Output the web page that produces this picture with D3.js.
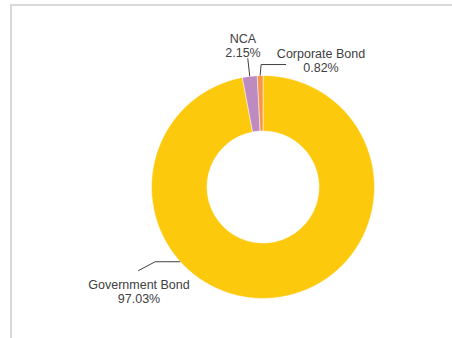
<!DOCTYPE html>
<html>
<head>
<meta charset="utf-8">
<script src="https://cdn.jsdelivr.net/npm/d3@7"></script>
<style>
  html, body { margin: 0; padding: 0; background: #fff; }
  svg { display: block; }
</style>
</head>
<body>
<svg id="chart" width="452" height="338"></svg>
<script>
// Portfolio composition by asset type (percent of total)
const categories = ["Government Bond", "NCA", "Corporate Bond"];
const shares = [97.03, 2.15, 0.82];
const sliceColors = ["#FDC90D", "#BE8BC0", "#F7954A"];

const svg = d3.select("#chart");
const W = 452, H = 338;

// chart area frame (open on the right and bottom)
svg.append("path")
  .attr("d", `M11,${H} L11,5 L${W},5`)
  .attr("fill", "none")
  .attr("stroke", "#d9d9d9")
  .attr("stroke-width", 2);

const cx = 263, cy = 187;
const outerR = 111.5, innerR = 56;

const pie = d3.pie().sort(null).value(d => d).startAngle(0).endAngle(2 * Math.PI);
const arcs = pie(shares);
const arc = d3.arc().innerRadius(innerR).outerRadius(outerR);

const g = svg.append("g").attr("transform", `translate(${cx},${cy})`);

g.selectAll("path.slice")
  .data(arcs)
  .join("path")
  .attr("class", "slice")
  .attr("d", arc)
  .attr("fill", (d, i) => sliceColors[i])
  .attr("stroke", "#fff")
  .attr("stroke-width", 0.5);

// point on the outer rim at a given angle (0 = 12 o'clock, clockwise)
const rim = a => [outerR * Math.sin(a), -outerR * Math.cos(a)];
const mid = d => (d.startAngle + d.endAngle) / 2;

// leader-line layouts: anchor angle on rim, polyline bends, label anchor
const labelLayout = [
  { angle: () => 3.978, bends: ([x, y]) => [[x - 25, y], [x - 42, y + 9]], text: [-124, 102] },
  { angle: d => mid(d), bends: ([x, y]) => [[x - 2, y - 18]], text: [-20, -144] },
  { angle: d => mid(d), bends: ([x, y]) => [[x + 1, y - 11], [x + 26, y - 11]], text: [58, -129] }
];

const fmt = v => v.toFixed(2) + "%";
const line = d3.line();

arcs.forEach((d, i) => {
  const L = labelLayout[i];
  const p0 = rim(L.angle(d));
  const pts = [p0, ...L.bends(p0)];
  g.append("path")
    .attr("d", line(pts))
    .attr("fill", "none")
    .attr("stroke", "#404040")
    .attr("stroke-width", 1);

  const t = g.append("text")
    .attr("x", L.text[0])
    .attr("y", L.text[1])
    .attr("text-anchor", "middle")
    .attr("font-family", "'Liberation Sans', Arial, sans-serif")
    .attr("font-size", 12.5)
    .attr("fill", "#404040");
  t.append("tspan").attr("x", L.text[0]).text(categories[i]);
  t.append("tspan").attr("x", L.text[0]).attr("dy", 14).text(fmt(shares[i]));
});
</script>
</body>
</html>
